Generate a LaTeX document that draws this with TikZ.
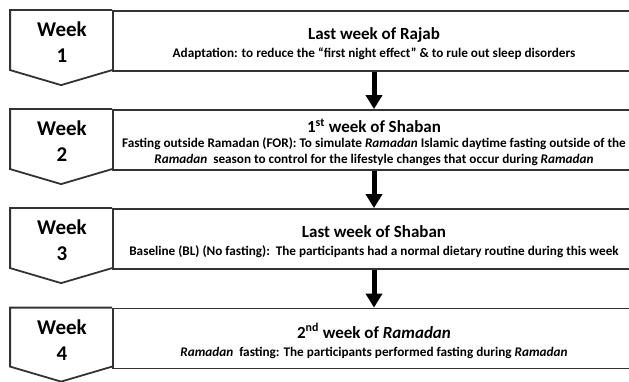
\documentclass[tikz,border=0pt]{standalone}
\usepackage{fontspec}
\setmainfont{Carlito}
\usetikzlibrary{arrows.meta,calc}
\newcommand{\titlefont}{\bfseries\fontsize{17}{19}\selectfont}

\begin{document}
\begin{tikzpicture}[x=1pt,y=-1pt,
  weektext/.style={inner sep=0pt,align=center,font=\bfseries\fontsize{21}{26}\selectfont},
  infobox/.style={draw=black!80,line width=1.8pt,minimum width=522pt,minimum height=60pt,inner sep=0pt},
  infotext/.style={inner sep=0pt,align=center,font=\bfseries\fontsize{13.2}{16}\selectfont},
  weekline/.style={draw=black!80,line width=1.8pt,line join=miter},
  bigarrow/.style={line width=5pt,-{Triangle[width=16pt,length=14pt]}}]
\clip (0,0) rectangle (629,382);

% boxes on the right
\node [infobox] (b1) at (374,41) {};
\node [infobox] (b2) at (374,140) {};
\node [infobox] (b3) at (374,239) {};
\node [infobox] (b4) at (374,338.5) {};

% week labels
\draw [weekline] (b1.north west) -- ++(-102,0) -- ++(0,60) -- ++(51,15) -- ++(51,-15);
\draw [weekline] (b2.north west) -- ++(-102,0) -- ++(0,60) -- ++(51,15) -- ++(51,-15);
\draw [weekline] (b3.north west) -- ++(-102,0) -- ++(0,60) -- ++(51,15) -- ++(51,-15);
\draw [weekline] (b4.north west) -- ++(-102,0) -- ++(0,59) -- ++(51,15) -- ++(51,-15);

\node [weektext] (w1) at (62,42.5) {Week\\1};
\node [weektext] (w2) at (62,141.5) {Week\\2};
\node [weektext] (w3) at (62,240.5) {Week\\3};
\node [weektext] (w4) at (62,340) {Week\\4};

% what happens in each week
\node [infotext] (t1) at (374,44) {{\titlefont Last week of Rajab}\\[2pt]
Adaptation: to reduce the “first night effect” \& to rule out sleep disorders};
\node [infotext] (t2) at (374,142.5) {{\titlefont 1\textsuperscript{st} week of Shaban}\\[-1pt]
Fasting outside Ramadan (FOR): To simulate \textit{Ramadan} Islamic daytime fasting outside of the\\
\textit{Ramadan}\ \ season to control for the lifestyle changes that occur during \textit{Ramadan}};
\node [infotext] (t3) at (374,242) {{\titlefont Last week of Shaban}\\[2pt]
Baseline (BL) (No fasting):\ \ The participants had a normal dietary routine during this week};
\node [infotext] (t4) at (374,341) {{\titlefont 2\textsuperscript{nd} week of \textit{Ramadan}}\\[2pt]
\textit{Ramadan}\ \ fasting: The participants performed fasting during \textit{Ramadan}};

\draw [bigarrow] (b1.south) -- (b2.north);
\draw [bigarrow] (b2.south) -- (b3.north);
\draw [bigarrow] (b3.south) -- (b4.north);

\end{tikzpicture}
\end{document}
